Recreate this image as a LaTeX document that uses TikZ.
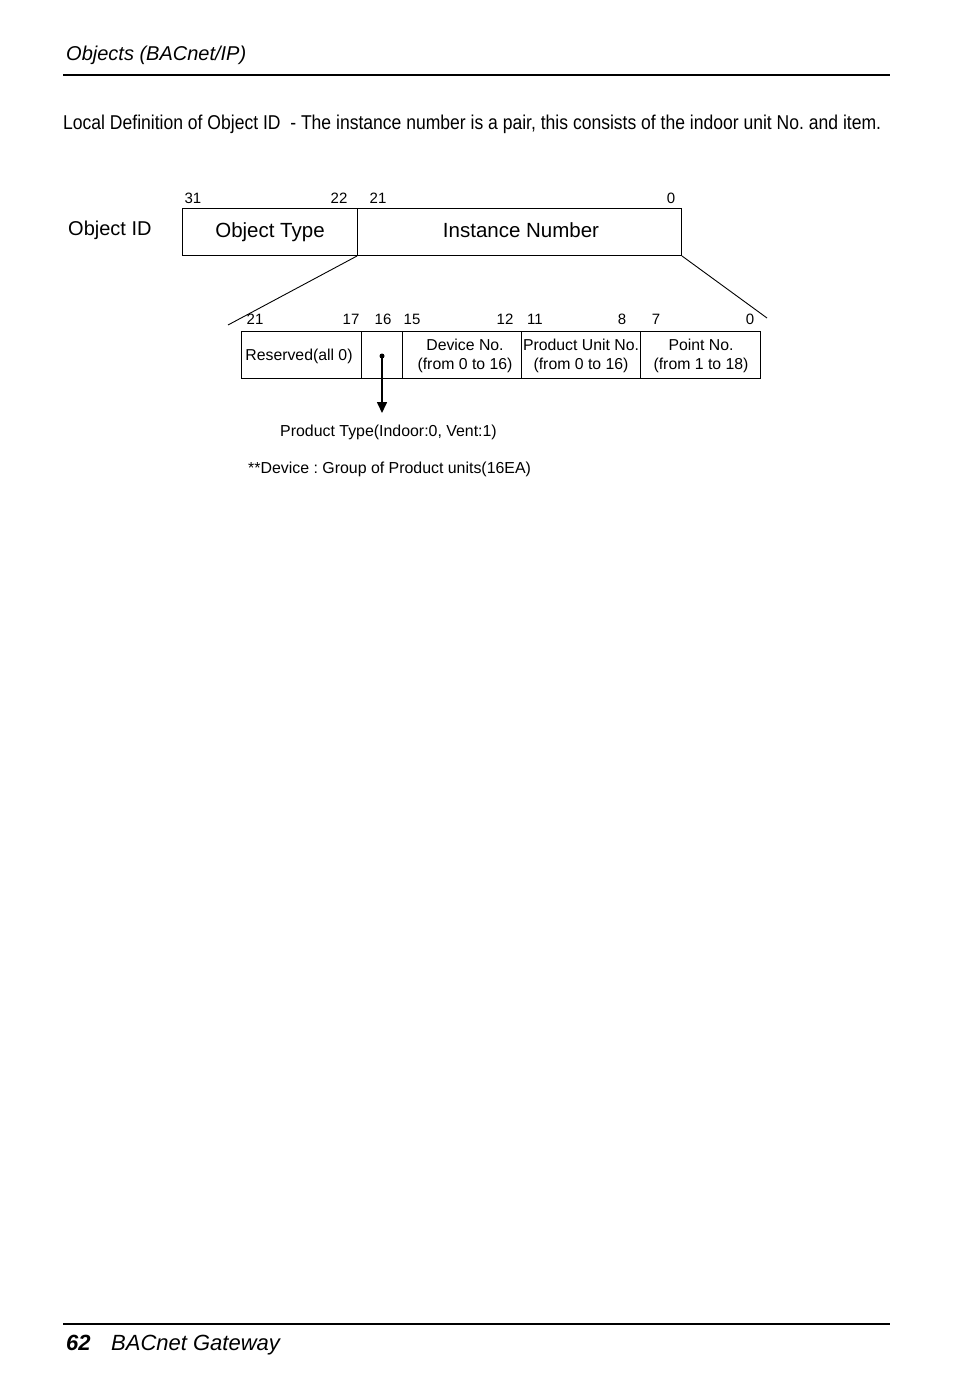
\documentclass[tikz,border=0pt]{standalone}
\usepackage{fontspec}
\setmainfont{Liberation Sans}
\newfontfamily\condfont{Liberation Sans}[FakeStretch=0.877]
\usetikzlibrary{arrows.meta}
\frenchspacing
\begin{document}
\begin{tikzpicture}[x=1pt,y=-1pt,
  cell/.style={draw, line width=1pt, inner sep=0pt, anchor=north west,
    font=\fontsize{20.5}{24}\selectfont},
  subcell/.style={draw, line width=1pt, inner sep=0pt, anchor=north west,
    minimum height=47pt},
  subtext/.style={inner sep=0pt, align=center, font=\fontsize{15.8}{19}\selectfont},
  bitno/.style={inner sep=0pt, anchor=base, font=\fontsize{15}{18}\selectfont},
  note/.style={inner sep=0pt, anchor=base west, font=\fontsize{15.9}{19}\selectfont},
  rule/.style={line width=2pt},
  thin/.style={line width=0.9pt}]
\useasboundingbox (0,0) rectangle (954,1400);

% header
\node[inner sep=0pt, anchor=base west, font=\fontsize{20}{24}\selectfont\itshape] (hdr) at (66,60.5) {Objects (BACnet/IP)};
\coordinate (r1a) at (63,75); \coordinate (r1b) at (890,75);
\draw[rule] (r1a) -- (r1b);

\node[inner sep=0pt, anchor=base west, font=\condfont\fontsize{20}{24}\selectfont] (intro) at (63,129)
  {Local Definition of Object ID\ \ - The instance number is a pair, this consists of the indoor unit No. and item.};

% Object ID row
\node[inner sep=0pt, anchor=base west, font=\fontsize{20}{24}\selectfont] (oid) at (68,235) {Object ID};
\node[cell, minimum width=175pt, minimum height=47pt] (otype) at (182,208) {Object Type};
\node[cell, minimum width=324pt, minimum height=47pt] (inst) at (357,208) {};
\node[inner sep=0pt, font=\fontsize{20.5}{24}\selectfont] (insttext) at (521,230.5) {Instance Number};

\node[bitno] (b31) at (193,203.5) {31};
\node[bitno] (b22) at (339,203.5) {22};
\node[bitno] (b21) at (378,203.5) {21};
\node[bitno] (b0) at (671,203.5) {0};

% expansion lines
\coordinate (lexp) at (228,325);
\coordinate (rexp) at (767,318);
\draw[thin] (inst.south west) -- (lexp);
\draw[thin] (inst.south east) -- (rexp);

% bit numbers of instance number
\node[bitno] (c21) at (255,324.5) {21};
\node[bitno] (c17) at (351,324.5) {17};
\node[bitno] (c16) at (383,324.5) {16};
\node[bitno] (c15) at (412,324.5) {15};
\node[bitno] (c12) at (505,324.5) {12};
\node[bitno] (c11) at (535,324.5) {11};
\node[bitno] (c8) at (622,324.5) {8};
\node[bitno] (c7) at (656,324.5) {7};
\node[bitno] (c0) at (750,324.5) {0};

% sub-fields
\node[subcell, minimum width=120pt] (res) at (241,331) {};
\node[subcell, minimum width=41pt] (ptype) at (361,331) {};
\node[subcell, minimum width=119pt] (dev) at (402,331) {};
\node[subcell, minimum width=119pt] (pun) at (521,331) {};
\node[subcell, minimum width=120pt] (pnt) at (640,331) {};
\node[subtext] (restext) at (299,356) {Reserved(all 0)};
\node[subtext] (devtext) at (465,356) {Device No.\\(from 0 to 16)};
\node[subtext] (puntext) at (581,356) {Product Unit No.\\(from 0 to 16)};
\node[subtext] (pnttext) at (701,356) {Point No.\\(from 1 to 18)};

% product type arrow
\node[circle, fill, inner sep=0pt, minimum size=5pt] (dot) at (382,356) {};
\coordinate (arrend) at (382,413);
\draw[line width=1.6pt, -{Triangle[width=10pt,length=11pt]}] (dot.center) -- (arrend);

\node[note] (ptlabel) at (280,436) {Product Type(Indoor:0, Vent:1)};
\node[note] (devnote) at (248,473) {**Device : Group of Product units(16EA)};

% footer
\coordinate (r2a) at (63,1324); \coordinate (r2b) at (890,1324);
\draw[rule] (r2a) -- (r2b);
\node[inner sep=0pt, anchor=base west, font=\fontsize{22}{26}\selectfont\bfseries\itshape] (pg) at (66,1350) {62};
\node[inner sep=0pt, anchor=base west, font=\fontsize{22}{26}\selectfont\itshape] (ftitle) at (111,1350) {BACnet Gateway};
\end{tikzpicture}
\end{document}
